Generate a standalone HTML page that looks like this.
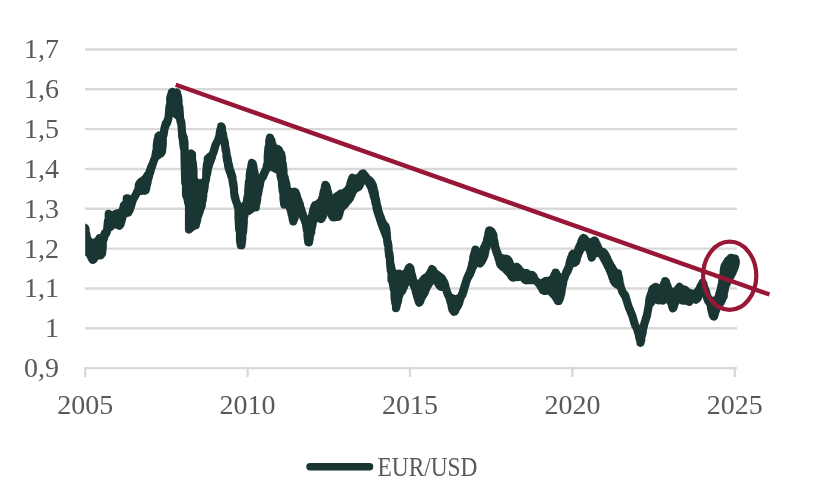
<!DOCTYPE html>
<html><head><meta charset="utf-8"><style>
html,body{margin:0;padding:0;background:#fff;width:840px;height:492px;overflow:hidden}
svg{display:block;will-change:transform}
text{font-family:"Liberation Serif",serif}
</style></head><body>
<svg width="840" height="492" viewBox="0 0 840 492">
<rect width="840" height="492" fill="#ffffff"/>
<line x1="85" y1="49.45" x2="737" y2="49.45" stroke="#d9d9d9" stroke-width="2.4"/>
<line x1="85" y1="89.28" x2="737" y2="89.28" stroke="#d9d9d9" stroke-width="2.4"/>
<line x1="85" y1="129.11" x2="737" y2="129.11" stroke="#d9d9d9" stroke-width="2.4"/>
<line x1="85" y1="168.94" x2="737" y2="168.94" stroke="#d9d9d9" stroke-width="2.4"/>
<line x1="85" y1="208.77" x2="737" y2="208.77" stroke="#d9d9d9" stroke-width="2.4"/>
<line x1="85" y1="248.60" x2="737" y2="248.60" stroke="#d9d9d9" stroke-width="2.4"/>
<line x1="85" y1="288.43" x2="737" y2="288.43" stroke="#d9d9d9" stroke-width="2.4"/>
<line x1="85" y1="328.26" x2="737" y2="328.26" stroke="#d9d9d9" stroke-width="2.4"/>
<line x1="84" y1="368.09" x2="737" y2="368.09" stroke="#d9d9d9" stroke-width="2.4"/>
<line x1="85.20" y1="366.89" x2="85.20" y2="377" stroke="#d9d9d9" stroke-width="2.4"/>
<line x1="247.60" y1="366.89" x2="247.60" y2="377" stroke="#d9d9d9" stroke-width="2.4"/>
<line x1="410.00" y1="366.89" x2="410.00" y2="377" stroke="#d9d9d9" stroke-width="2.4"/>
<line x1="572.40" y1="366.89" x2="572.40" y2="377" stroke="#d9d9d9" stroke-width="2.4"/>
<line x1="734.80" y1="366.89" x2="734.80" y2="377" stroke="#d9d9d9" stroke-width="2.4"/>

<g font-family="Liberation Serif, serif" font-size="28" fill="#595959">
<text x="59" y="58.45" text-anchor="end">1,7</text>
<text x="59" y="98.28" text-anchor="end">1,6</text>
<text x="59" y="138.11" text-anchor="end">1,5</text>
<text x="59" y="177.94" text-anchor="end">1,4</text>
<text x="59" y="217.77" text-anchor="end">1,3</text>
<text x="59" y="257.60" text-anchor="end">1,2</text>
<text x="59" y="297.43" text-anchor="end">1,1</text>
<text x="59" y="337.26" text-anchor="end">1</text>
<text x="59" y="377.09" text-anchor="end">0,9</text>
<text x="85.20" y="414" text-anchor="middle">2005</text>
<text x="247.60" y="414" text-anchor="middle">2010</text>
<text x="410.00" y="414" text-anchor="middle">2015</text>
<text x="572.40" y="414" text-anchor="middle">2020</text>
<text x="734.80" y="414" text-anchor="middle">2025</text>

</g>
<clipPath id="cp"><rect x="85.2" y="0" width="760" height="492"/></clipPath>
<path clip-path="url(#cp)" d="M81.00,227.6 L81.00,249.9 L81.75,250.4 L81.75,227.6 L82.50,227.6 L82.50,251.0 L83.25,251.5 L83.25,227.6 L84.00,227.6 L84.00,251.8 L84.75,251.8 L84.75,227.6 L85.50,228.5 L85.50,251.6 L86.25,251.3 L86.25,233.7 L87.00,237.7 L87.00,251.1 L87.75,251.3 L87.75,239.5 L88.50,240.5 L88.50,251.8 L89.25,252.8 L89.25,241.9 L90.00,242.5 L90.00,254.7 L90.75,256.6 L90.75,242.8 L91.50,242.9 L91.50,257.8 L92.25,259.2 L92.25,242.9 L93.00,242.9 L93.00,259.9 L93.75,259.3 L93.75,242.9 L94.50,242.9 L94.50,258.1 L95.25,257.0 L95.25,242.8 L96.00,242.6 L96.00,256.2 L96.75,255.5 L96.75,241.7 L97.50,240.9 L97.50,254.7 L98.25,254.2 L98.25,240.4 L99.00,239.1 L99.00,254.4 L99.75,254.9 L99.75,238.0 L100.50,238.0 L100.50,255.5 L101.25,254.7 L101.25,238.0 L102.00,238.0 L102.00,253.5 L102.75,246.6 L102.75,238.0 L103.50,237.0 L103.50,239.8 L104.25,237.0 L104.25,234.7 L105.00,233.0 L105.00,234.9 L105.75,234.1 L105.75,232.5 L106.50,231.4 L106.50,232.9 L107.25,229.7 L107.25,228.2 L108.00,221.0 L108.00,228.6 L108.75,228.1 L108.75,213.9 L109.50,214.5 L109.50,227.6 L110.25,227.0 L110.25,215.1 L111.00,215.3 L111.00,226.4 L111.75,225.7 L111.75,215.4 L112.50,215.2 L112.50,225.0 L113.25,224.5 L113.25,215.0 L114.00,214.8 L114.00,224.1 L114.75,223.9 L114.75,214.3 L115.50,214.0 L115.50,223.9 L116.25,224.2 L116.25,213.6 L117.00,213.4 L117.00,224.6 L117.75,225.0 L117.75,213.3 L118.50,213.4 L118.50,225.3 L119.25,225.7 L119.25,213.5 L120.00,213.4 L120.00,225.1 L120.75,223.6 L120.75,213.0 L121.50,212.1 L121.50,221.2 L122.25,217.8 L122.25,210.8 L123.00,208.7 L123.00,215.6 L123.75,214.7 L123.75,205.5 L124.50,204.8 L124.50,214.2 L125.25,213.7 L125.25,204.1 L126.00,202.9 L126.00,213.2 L126.75,212.7 L126.75,198.4 L127.50,198.3 L127.50,212.6 L128.25,212.6 L128.25,199.1 L129.00,199.7 L129.00,211.4 L129.75,209.9 L129.75,199.7 L130.50,199.5 L130.50,207.7 L131.25,205.5 L131.25,199.3 L132.00,199.1 L132.00,202.7 L132.75,200.2 L132.75,198.9 L133.50,198.5 L133.50,198.5 L134.25,197.5 L134.25,197.5 L135.00,196.1 L135.00,196.1 L135.75,194.9 L135.75,194.9 L136.50,193.3 L136.50,193.5 L137.25,192.2 L137.25,191.6 L138.00,190.0 L138.00,191.4 L138.75,190.8 L138.75,185.3 L139.50,183.4 L139.50,190.7 L140.25,190.8 L140.25,182.5 L141.00,181.8 L141.00,190.8 L141.75,190.8 L141.75,181.5 L142.50,180.9 L142.50,190.6 L143.25,190.5 L143.25,180.3 L144.00,179.7 L144.00,190.4 L144.75,190.7 L144.75,179.1 L145.50,178.4 L145.50,190.5 L146.25,188.3 L146.25,177.4 L147.00,176.1 L147.00,184.5 L147.75,181.1 L147.75,174.9 L148.50,174.0 L148.50,178.1 L149.25,175.3 L149.25,172.8 L150.00,170.4 L150.00,173.0 L150.75,170.3 L150.75,168.1 L151.50,166.4 L151.50,167.7 L152.25,165.7 L152.25,164.8 L153.00,162.9 L153.00,163.3 L153.75,160.9 L153.75,160.9 L154.50,159.0 L154.50,159.0 L155.25,157.4 L155.25,157.4 L156.00,152.2 L156.00,156.7 L156.75,156.2 L156.75,145.6 L157.50,140.1 L157.50,155.7 L158.25,155.2 L158.25,136.4 L159.00,135.5 L159.00,154.7 L159.75,154.2 L159.75,135.7 L160.50,135.8 L160.50,153.7 L161.25,152.7 L161.25,135.7 L162.00,135.4 L162.00,151.7 L162.75,143.8 L162.75,135.1 L163.50,134.4 L163.50,135.2 L164.25,130.6 L164.25,129.4 L165.00,126.2 L165.00,127.6 L165.75,125.1 L165.75,123.6 L166.50,122.5 L166.50,123.8 L167.25,122.5 L167.25,121.3 L168.00,119.1 L168.00,120.0 L168.75,115.9 L168.75,115.4 L169.50,106.5 L169.50,112.8 L170.25,112.6 L170.25,98.0 L171.00,95.2 L171.00,112.6 L171.75,112.6 L171.75,92.2 L172.50,91.9 L172.50,112.6 L173.25,112.7 L173.25,93.1 L174.00,93.9 L174.00,113.0 L174.75,113.4 L174.75,94.3 L175.50,94.0 L175.50,113.8 L176.25,114.4 L176.25,93.5 L177.00,92.6 L177.00,115.0 L177.75,115.5 L177.75,95.7 L178.50,100.0 L178.50,115.8 L179.25,115.9 L179.25,106.5 L180.00,116.3 L180.00,118.6 L180.75,122.4 L180.75,120.4 L181.50,123.2 L181.50,124.8 L182.25,137.0 L182.25,134.0 L183.00,135.7 L183.00,141.1 L183.75,147.8 L183.75,137.7 L184.50,142.9 L184.50,155.8 L185.25,182.7 L185.25,151.6 L186.00,152.8 L186.00,195.0 L186.75,196.8 L186.75,153.4 L187.50,153.8 L187.50,198.8 L188.25,203.0 L188.25,153.8 L189.00,154.1 L189.00,229.6 L189.75,228.9 L189.75,154.0 L190.50,153.8 L190.50,228.1 L191.25,227.5 L191.25,153.5 L192.00,154.3 L192.00,227.0 L192.75,226.6 L192.75,162.6 L193.50,171.5 L193.50,226.1 L194.25,225.7 L194.25,179.7 L195.00,181.7 L195.00,225.4 L195.75,225.3 L195.75,182.0 L196.50,182.9 L196.50,222.6 L197.25,219.3 L197.25,183.2 L198.00,183.3 L198.00,216.2 L198.75,213.9 L198.75,183.3 L199.50,183.3 L199.50,212.1 L200.25,209.5 L200.25,183.3 L201.00,183.3 L201.00,207.6 L201.75,205.5 L201.75,183.3 L202.50,183.2 L202.50,201.0 L203.25,195.8 L203.25,182.9 L204.00,182.0 L204.00,190.8 L204.75,185.8 L204.75,181.7 L205.50,180.1 L205.50,181.3 L206.25,177.7 L206.25,171.9 L207.00,164.1 L207.00,174.0 L207.75,170.3 L207.75,158.6 L208.50,157.9 L208.50,166.8 L209.25,164.3 L209.25,157.1 L210.00,156.5 L210.00,162.3 L210.75,160.2 L210.75,156.0 L211.50,155.4 L211.50,158.2 L212.25,155.7 L212.25,154.9 L213.00,153.2 L213.00,153.6 L213.75,151.7 L213.75,151.0 L214.50,148.5 L214.50,149.1 L215.25,146.1 L215.25,145.8 L216.00,144.0 L216.00,144.0 L216.75,142.7 L216.75,142.7 L217.50,141.5 L217.50,141.5 L218.25,139.8 L218.25,139.6 L219.00,137.0 L219.00,137.7 L219.75,137.4 L219.75,132.9 L220.50,129.5 L220.50,137.4 L221.25,137.4 L221.25,126.3 L222.00,127.7 L222.00,137.4 L222.75,137.6 L222.75,133.0 L223.50,137.6 L223.50,138.3 L224.25,141.0 L224.25,140.1 L225.00,143.6 L225.00,145.0 L225.75,150.7 L225.75,148.8 L226.50,153.2 L226.50,156.3 L227.25,161.0 L227.25,157.0 L228.00,160.7 L228.00,165.0 L228.75,168.4 L228.75,164.4 L229.50,167.7 L229.50,170.9 L230.25,172.8 L230.25,170.4 L231.00,172.5 L231.00,174.7 L231.75,177.2 L231.75,174.8 L232.50,177.8 L232.50,180.5 L233.25,185.5 L233.25,182.7 L234.00,189.4 L234.00,191.8 L234.75,197.2 L234.75,195.6 L235.50,199.0 L235.50,199.6 L236.25,201.8 L236.25,201.8 L237.00,203.4 L237.00,203.4 L237.75,206.8 L237.75,206.8 L238.50,208.2 L238.50,217.5 L239.25,229.7 L239.25,208.4 L240.00,208.4 L240.00,240.1 L240.75,245.1 L240.75,208.3 L241.50,208.1 L241.50,245.2 L242.25,238.9 L242.25,207.7 L243.00,207.1 L243.00,232.3 L243.75,222.9 L243.75,206.4 L244.50,205.7 L244.50,215.5 L245.25,211.1 L245.25,204.9 L246.00,204.1 L246.00,211.0 L246.75,211.1 L246.75,202.5 L247.50,197.0 L247.50,211.1 L248.25,211.0 L248.25,190.0 L249.00,181.5 L249.00,210.7 L249.75,210.2 L249.75,174.6 L250.50,169.8 L250.50,209.7 L251.25,209.2 L251.25,166.4 L252.00,163.0 L252.00,208.5 L252.75,207.8 L252.75,163.8 L253.50,167.0 L253.50,207.2 L254.25,206.9 L254.25,171.4 L255.00,175.5 L255.00,207.5 L255.75,207.5 L255.75,178.0 L256.50,178.8 L256.50,203.3 L257.25,198.6 L257.25,179.5 L258.00,180.3 L258.00,194.1 L258.75,190.3 L258.75,180.8 L259.50,180.8 L259.50,186.7 L260.25,182.4 L260.25,180.7 L261.00,179.6 L261.00,179.6 L261.75,178.4 L261.75,178.0 L262.50,176.7 L262.50,177.5 L263.25,176.1 L263.25,175.1 L264.00,173.4 L264.00,174.3 L264.75,172.4 L264.75,171.7 L265.50,170.4 L265.50,170.8 L266.25,169.5 L266.25,169.2 L267.00,164.9 L267.00,166.2 L267.75,165.8 L267.75,156.2 L268.50,147.3 L268.50,165.7 L269.25,165.8 L269.25,140.7 L270.00,137.8 L270.00,166.0 L270.75,166.3 L270.75,139.2 L271.50,140.8 L271.50,166.7 L272.25,167.1 L272.25,143.8 L273.00,146.5 L273.00,167.5 L273.75,167.8 L273.75,148.1 L274.50,148.4 L274.50,168.2 L275.25,168.6 L275.25,148.6 L276.00,148.7 L276.00,168.9 L276.75,169.3 L276.75,148.8 L277.50,149.0 L277.50,169.7 L278.25,170.0 L278.25,149.3 L279.00,150.3 L279.00,170.5 L279.75,171.4 L279.75,151.8 L280.50,153.0 L280.50,175.6 L281.25,178.9 L281.25,154.1 L282.00,158.3 L282.00,184.0 L282.75,191.3 L282.75,164.0 L283.50,171.3 L283.50,198.7 L284.25,204.5 L284.25,176.5 L285.00,179.0 L285.00,204.5 L285.75,204.2 L285.75,181.9 L286.50,185.3 L286.50,203.8 L287.25,203.8 L287.25,188.7 L288.00,190.6 L288.00,204.0 L288.75,205.0 L288.75,191.4 L289.50,191.8 L289.50,206.6 L290.25,209.1 L290.25,192.1 L291.00,192.2 L291.00,211.0 L291.75,214.6 L291.75,192.3 L292.50,192.4 L292.50,218.2 L293.25,221.4 L293.25,192.2 L294.00,191.8 L294.00,219.6 L294.75,217.5 L294.75,191.8 L295.50,192.2 L295.50,214.7 L296.25,212.7 L296.25,194.0 L297.00,196.6 L297.00,211.6 L297.75,211.3 L297.75,198.9 L298.50,200.8 L298.50,211.2 L299.25,211.1 L299.25,202.5 L300.00,205.2 L300.00,211.2 L300.75,211.5 L300.75,207.9 L301.50,210.4 L301.50,212.4 L302.25,214.3 L302.25,212.6 L303.00,215.0 L303.00,216.4 L303.75,218.2 L303.75,217.0 L304.50,218.3 L304.50,219.5 L305.25,222.0 L305.25,220.7 L306.00,221.4 L306.00,224.1 L306.75,229.6 L306.75,221.6 L307.50,221.8 L307.50,235.7 L308.25,241.9 L308.25,221.8 L309.00,221.6 L309.00,242.4 L309.75,238.0 L309.75,221.2 L310.50,220.7 L310.50,234.3 L311.25,232.2 L311.25,218.9 L312.00,215.7 L312.00,227.1 L312.75,222.7 L312.75,212.1 L313.50,209.3 L313.50,220.7 L314.25,219.4 L314.25,206.9 L315.00,205.4 L315.00,218.7 L315.75,218.2 L315.75,205.1 L316.50,204.7 L316.50,217.6 L317.25,217.1 L317.25,204.3 L318.00,203.8 L318.00,217.4 L318.75,217.8 L318.75,203.2 L319.50,202.7 L319.50,218.2 L320.25,218.6 L320.25,202.1 L321.00,201.4 L321.00,219.1 L321.75,218.5 L321.75,199.9 L322.50,197.4 L322.50,216.7 L323.25,215.3 L323.25,194.0 L324.00,190.8 L324.00,213.1 L324.75,210.6 L324.75,187.8 L325.50,184.9 L325.50,209.8 L326.25,209.7 L326.25,185.9 L327.00,188.1 L327.00,209.7 L327.75,209.9 L327.75,191.4 L328.50,194.7 L328.50,210.2 L329.25,210.8 L329.25,197.4 L330.00,198.6 L330.00,211.6 L330.75,212.8 L330.75,199.5 L331.50,200.0 L331.50,214.5 L332.25,216.3 L332.25,200.4 L333.00,200.4 L333.00,217.3 L333.75,217.4 L333.75,199.4 L334.50,198.4 L334.50,216.8 L335.25,216.5 L335.25,197.6 L336.00,197.0 L336.00,216.3 L336.75,216.3 L336.75,196.6 L337.50,195.9 L337.50,216.9 L338.25,216.7 L338.25,195.6 L339.00,195.3 L339.00,214.8 L339.75,212.2 L339.75,194.5 L340.50,193.8 L340.50,209.7 L341.25,207.8 L341.25,193.7 L342.00,193.7 L342.00,206.9 L342.75,206.2 L342.75,193.5 L343.50,193.2 L343.50,205.7 L344.25,205.3 L344.25,192.7 L345.00,192.1 L345.00,204.4 L345.75,203.1 L345.75,191.6 L346.50,191.0 L346.50,202.1 L347.25,201.3 L347.25,190.3 L348.00,189.5 L348.00,200.7 L348.75,199.8 L348.75,188.2 L349.50,186.9 L349.50,198.9 L350.25,197.5 L350.25,184.4 L351.00,181.7 L351.00,195.7 L351.75,193.9 L351.75,179.2 L352.50,177.8 L352.50,192.3 L353.25,191.0 L353.25,178.6 L354.00,178.7 L354.00,190.0 L354.75,189.2 L354.75,178.8 L355.50,178.7 L355.50,188.6 L356.25,188.2 L356.25,178.5 L357.00,178.2 L357.00,187.9 L357.75,187.5 L357.75,177.8 L358.50,177.4 L358.50,187.1 L359.25,186.2 L359.25,177.1 L360.00,176.7 L360.00,184.8 L360.75,182.9 L360.75,176.2 L361.50,174.9 L361.50,181.5 L362.25,180.7 L362.25,173.7 L363.00,173.5 L363.00,180.3 L363.75,180.0 L363.75,174.1 L364.50,175.0 L364.50,179.9 L365.25,179.9 L365.25,175.9 L366.00,176.8 L366.00,180.1 L366.75,180.4 L366.75,178.0 L367.50,178.9 L367.50,180.9 L368.25,181.8 L368.25,179.8 L369.00,180.0 L369.00,183.1 L369.75,184.6 L369.75,180.5 L370.50,181.2 L370.50,186.1 L371.25,187.5 L371.25,182.2 L372.00,183.5 L372.00,189.9 L372.75,192.4 L372.75,185.0 L373.50,187.9 L373.50,195.0 L374.25,197.5 L374.25,190.7 L375.00,194.7 L375.00,200.5 L375.75,203.9 L375.75,198.6 L376.50,202.3 L376.50,207.5 L377.25,210.7 L377.25,205.6 L378.00,208.7 L378.00,213.1 L378.75,215.5 L378.75,211.9 L379.50,214.3 L379.50,217.6 L380.25,220.0 L380.25,216.3 L381.00,218.3 L381.00,222.4 L381.75,224.5 L381.75,220.2 L382.50,222.2 L382.50,226.6 L383.25,228.6 L383.25,223.4 L384.00,224.4 L384.00,230.5 L384.75,232.3 L384.75,225.3 L385.50,226.4 L385.50,234.3 L386.25,236.5 L386.25,228.5 L387.00,236.7 L387.00,239.0 L387.75,244.5 L387.75,241.9 L388.50,246.4 L388.50,249.8 L389.25,256.6 L389.25,252.8 L390.00,258.7 L390.00,262.2 L390.75,270.4 L390.75,264.7 L391.50,269.0 L391.50,280.0 L392.25,281.7 L392.25,271.3 L393.00,272.1 L393.00,284.3 L393.75,288.8 L393.75,272.8 L394.50,273.5 L394.50,297.0 L395.25,302.8 L395.25,274.3 L396.00,274.8 L396.00,308.2 L396.75,305.6 L396.75,274.6 L397.50,274.1 L397.50,302.6 L398.25,299.8 L398.25,273.8 L399.00,273.7 L399.00,296.4 L399.75,293.8 L399.75,273.9 L400.50,274.2 L400.50,292.7 L401.25,291.9 L401.25,274.4 L402.00,274.7 L402.00,291.2 L402.75,289.6 L402.75,274.8 L403.50,274.8 L403.50,287.8 L404.25,286.0 L404.25,274.6 L405.00,274.3 L405.00,284.3 L405.75,282.9 L405.75,273.7 L406.50,272.5 L406.50,282.0 L407.25,281.7 L407.25,271.1 L408.00,269.7 L408.00,281.5 L408.75,281.3 L408.75,268.1 L409.50,267.3 L409.50,281.2 L410.25,281.3 L410.25,268.0 L411.00,271.1 L411.00,281.6 L411.75,282.1 L411.75,274.4 L412.50,277.4 L412.50,282.9 L413.25,284.3 L413.25,279.9 L414.00,281.8 L414.00,286.0 L414.75,287.8 L414.75,283.0 L415.50,283.8 L415.50,290.1 L416.25,293.4 L416.25,284.2 L417.00,284.5 L417.00,296.1 L417.75,298.5 L417.75,284.5 L418.50,284.5 L418.50,300.9 L419.25,302.8 L419.25,284.2 L420.00,283.9 L420.00,301.8 L420.75,299.7 L420.75,283.2 L421.50,282.2 L421.50,297.8 L422.25,296.3 L422.25,281.2 L423.00,280.2 L423.00,295.3 L423.75,294.3 L423.75,279.2 L424.50,278.4 L424.50,292.9 L425.25,291.1 L425.25,277.9 L426.00,277.4 L426.00,289.2 L426.75,287.5 L426.75,277.0 L427.50,276.4 L427.50,286.0 L428.25,284.8 L428.25,275.7 L429.00,274.7 L429.00,283.7 L429.75,282.5 L429.75,273.6 L430.50,272.2 L430.50,281.2 L431.25,280.5 L431.25,270.7 L432.00,269.1 L432.00,280.1 L432.75,279.9 L432.75,269.7 L433.50,271.1 L433.50,279.8 L434.25,279.9 L434.25,272.2 L435.00,273.0 L435.00,280.1 L435.75,280.5 L435.75,273.6 L436.50,274.2 L436.50,281.1 L437.25,281.7 L437.25,274.7 L438.00,275.3 L438.00,282.9 L438.75,284.5 L438.75,275.9 L439.50,276.4 L439.50,285.5 L440.25,286.2 L440.25,277.0 L441.00,277.3 L441.00,286.8 L441.75,286.2 L441.75,278.1 L442.50,279.2 L442.50,286.3 L443.25,286.4 L443.25,280.7 L444.00,281.9 L444.00,286.7 L444.75,287.1 L444.75,283.7 L445.50,286.8 L445.50,287.7 L446.25,289.5 L446.25,289.5 L447.00,292.1 L447.00,292.1 L447.75,294.2 L447.75,294.2 L448.50,295.7 L448.50,295.7 L449.25,297.5 L449.25,296.7 L450.00,297.1 L450.00,299.9 L450.75,302.5 L450.75,297.5 L451.50,297.9 L451.50,305.7 L452.25,309.0 L452.25,298.2 L453.00,298.6 L453.00,310.4 L453.75,311.6 L453.75,298.9 L454.50,299.2 L454.50,311.7 L455.25,310.7 L455.25,299.2 L456.00,299.2 L456.00,309.1 L456.75,307.5 L456.75,299.1 L457.50,298.7 L457.50,306.2 L458.25,305.2 L458.25,298.4 L459.00,298.0 L459.00,303.5 L459.75,300.6 L459.75,297.6 L460.50,297.3 L460.50,298.1 L461.25,296.8 L461.25,295.8 L462.00,294.1 L462.00,295.6 L462.75,294.0 L462.75,292.2 L463.50,289.8 L463.50,291.8 L464.25,289.0 L464.25,287.2 L465.00,284.8 L465.00,286.2 L465.75,283.7 L465.75,282.7 L466.50,280.1 L466.50,281.2 L467.25,279.1 L467.25,277.8 L468.00,276.1 L468.00,277.5 L468.75,276.1 L468.75,274.6 L469.50,273.3 L469.50,274.9 L470.25,273.8 L470.25,271.3 L471.00,268.8 L471.00,271.8 L471.75,269.5 L471.75,266.1 L472.50,262.3 L472.50,267.5 L473.25,266.5 L473.25,257.8 L474.00,254.6 L474.00,265.0 L474.75,263.1 L474.75,252.1 L475.50,249.7 L475.50,262.3 L476.25,261.9 L476.25,251.1 L477.00,252.6 L477.00,261.7 L477.75,261.6 L477.75,253.7 L478.50,254.4 L478.50,262.0 L479.25,262.7 L479.25,254.5 L480.00,254.3 L480.00,263.6 L480.75,262.5 L480.75,254.0 L481.50,253.5 L481.50,261.6 L482.25,260.5 L482.25,252.6 L483.00,250.8 L483.00,259.1 L483.75,257.2 L483.75,248.3 L484.50,246.7 L484.50,255.3 L485.25,251.7 L485.25,245.2 L486.00,243.6 L486.00,248.8 L486.75,245.9 L486.75,241.7 L487.50,237.9 L487.50,243.7 L488.25,243.0 L488.25,234.1 L489.00,231.0 L489.00,242.2 L489.75,241.9 L489.75,230.3 L490.50,230.8 L490.50,241.7 L491.25,241.7 L491.25,231.2 L492.00,232.2 L492.00,241.8 L492.75,242.1 L492.75,233.7 L493.50,235.4 L493.50,242.8 L494.25,244.3 L494.25,240.6 L495.00,245.4 L495.00,247.0 L495.75,250.1 L495.75,248.2 L496.50,250.6 L496.50,252.3 L497.25,254.1 L497.25,252.6 L498.00,254.9 L498.00,256.5 L498.75,259.2 L498.75,256.4 L499.50,257.1 L499.50,261.9 L500.25,264.3 L500.25,257.4 L501.00,257.8 L501.00,265.1 L501.75,266.1 L501.75,258.1 L502.50,258.4 L502.50,266.8 L503.25,267.3 L503.25,258.7 L504.00,259.0 L504.00,267.8 L504.75,268.4 L504.75,259.0 L505.50,258.9 L505.50,269.1 L506.25,269.9 L506.25,258.8 L507.00,259.0 L507.00,270.6 L507.75,271.4 L507.75,259.5 L508.50,260.1 L508.50,272.1 L509.25,272.9 L509.25,261.7 L510.00,263.8 L510.00,273.6 L510.75,275.0 L510.75,265.8 L511.50,267.2 L511.50,276.4 L512.25,277.2 L512.25,267.8 L513.00,268.5 L513.00,277.6 L513.75,277.5 L513.75,268.8 L514.50,269.0 L514.50,277.1 L515.25,276.7 L515.25,267.9 L516.00,267.1 L516.00,276.6 L516.75,276.7 L516.75,266.9 L517.50,267.2 L517.50,276.9 L518.25,277.0 L518.25,268.1 L519.00,269.4 L519.00,276.8 L519.75,276.4 L519.75,270.2 L520.50,270.9 L520.50,276.4 L521.25,276.5 L521.25,271.7 L522.00,272.2 L522.00,276.8 L522.75,277.2 L522.75,272.6 L523.50,273.0 L523.50,277.8 L524.25,278.9 L524.25,273.1 L525.00,273.1 L525.00,279.8 L525.75,280.2 L525.75,273.0 L526.50,273.1 L526.50,280.2 L527.25,279.9 L527.25,273.5 L528.00,274.2 L528.00,279.9 L528.75,280.1 L528.75,275.2 L529.50,275.4 L529.50,280.1 L530.25,280.1 L530.25,275.3 L531.00,275.1 L531.00,280.1 L531.75,280.1 L531.75,274.8 L532.50,275.2 L532.50,280.1 L533.25,280.1 L533.25,275.9 L534.00,277.7 L534.00,280.1 L534.75,280.1 L534.75,279.3 L535.50,280.5 L535.50,280.5 L536.25,281.2 L536.25,281.2 L537.00,281.7 L537.00,281.7 L537.75,282.3 L537.75,282.2 L538.50,282.7 L538.50,283.2 L539.25,284.3 L539.25,283.2 L540.00,283.5 L540.00,285.3 L540.75,286.6 L540.75,283.4 L541.50,283.2 L541.50,287.6 L542.25,288.9 L542.25,283.1 L543.00,283.4 L543.00,290.2 L543.75,290.1 L543.75,282.6 L544.50,281.7 L544.50,291.0 L545.25,290.9 L545.25,281.2 L546.00,281.0 L546.00,290.4 L546.75,290.1 L546.75,281.2 L547.50,281.4 L547.50,290.1 L548.25,290.1 L548.25,281.3 L549.00,281.1 L549.00,290.1 L549.75,290.4 L549.75,280.6 L550.50,280.0 L550.50,291.2 L551.25,292.1 L551.25,279.5 L552.00,279.1 L552.00,293.0 L552.75,293.8 L552.75,278.5 L553.50,277.2 L553.50,294.5 L554.25,295.2 L554.25,275.3 L555.00,274.0 L555.00,296.2 L555.75,297.2 L555.75,272.6 L556.50,274.1 L556.50,298.3 L557.25,299.6 L557.25,275.0 L558.00,277.1 L558.00,301.1 L558.75,301.0 L558.75,279.2 L559.50,280.5 L559.50,299.3 L560.25,297.5 L560.25,280.9 L561.00,280.8 L561.00,294.6 L561.75,290.2 L561.75,280.7 L562.50,280.3 L562.50,285.8 L563.25,282.3 L563.25,279.8 L564.00,278.9 L564.00,279.2 L564.75,277.1 L564.75,276.6 L565.50,274.3 L565.50,275.1 L566.25,273.1 L566.25,272.1 L567.00,270.6 L567.00,272.0 L567.75,270.8 L567.75,269.1 L568.50,267.2 L568.50,269.0 L569.25,266.8 L569.25,264.9 L570.00,261.4 L570.00,265.4 L570.75,264.2 L570.75,258.8 L571.50,256.9 L571.50,263.4 L572.25,262.7 L572.25,254.9 L573.00,253.8 L573.00,262.5 L573.75,262.6 L573.75,254.2 L574.50,254.4 L574.50,262.8 L575.25,262.3 L575.25,254.4 L576.00,253.8 L576.00,261.6 L576.75,259.4 L576.75,252.8 L577.50,251.5 L577.50,256.4 L578.25,254.2 L578.25,249.6 L579.00,247.3 L579.00,252.5 L579.75,251.1 L579.75,245.9 L580.50,244.4 L580.50,249.1 L581.25,248.4 L581.25,242.0 L582.00,239.9 L582.00,247.7 L582.75,247.1 L582.75,238.7 L583.50,238.0 L583.50,246.5 L584.25,246.1 L584.25,238.3 L585.00,239.2 L585.00,245.8 L585.75,245.4 L585.75,240.7 L586.50,241.8 L586.50,245.5 L587.25,245.7 L587.25,242.3 L588.00,242.4 L588.00,246.5 L588.75,248.6 L588.75,242.4 L589.50,242.4 L589.50,250.0 L590.25,252.3 L590.25,242.4 L591.00,242.4 L591.00,255.0 L591.75,257.5 L591.75,242.3 L592.50,242.0 L592.50,256.0 L593.25,254.6 L593.25,241.5 L594.00,240.8 L594.00,253.8 L594.75,253.4 L594.75,240.5 L595.50,241.7 L595.50,253.3 L596.25,253.1 L596.25,243.5 L597.00,245.1 L597.00,252.9 L597.75,252.8 L597.75,246.5 L598.50,248.6 L598.50,252.8 L599.25,253.0 L599.25,249.7 L600.00,250.7 L600.00,253.3 L600.75,253.7 L600.75,251.7 L601.50,251.8 L601.50,254.4 L602.25,255.7 L602.25,251.8 L603.00,252.0 L603.00,257.0 L603.75,258.4 L603.75,252.5 L604.50,253.5 L604.50,259.7 L605.25,261.0 L605.25,254.6 L606.00,255.9 L606.00,262.4 L606.75,263.8 L606.75,257.5 L607.50,259.3 L607.50,265.3 L608.25,266.8 L608.25,260.9 L609.00,262.4 L609.00,268.3 L609.75,270.2 L609.75,263.8 L610.50,265.2 L610.50,271.9 L611.25,273.9 L611.25,266.3 L612.00,267.5 L612.00,275.9 L612.75,278.2 L612.75,268.9 L613.50,270.1 L613.50,280.5 L614.25,281.8 L614.25,271.2 L615.00,272.0 L615.00,282.9 L615.75,283.6 L615.75,272.5 L616.50,272.8 L616.50,284.1 L617.25,284.6 L617.25,273.1 L618.00,273.3 L618.00,285.0 L618.75,285.3 L618.75,276.8 L619.50,280.9 L619.50,285.5 L620.25,286.2 L620.25,284.6 L621.00,287.7 L621.00,287.7 L621.75,289.9 L621.75,289.9 L622.50,292.0 L622.50,292.0 L623.25,293.2 L623.25,293.2 L624.00,293.7 L624.00,294.5 L624.75,295.7 L624.75,294.7 L625.50,296.3 L625.50,297.0 L626.25,299.1 L626.25,299.1 L627.00,301.5 L627.00,301.5 L627.75,304.0 L627.75,304.0 L628.50,306.3 L628.50,306.3 L629.25,308.4 L629.25,308.4 L630.00,310.2 L630.00,310.2 L630.75,312.0 L630.75,312.0 L631.50,313.8 L631.50,313.8 L632.25,315.6 L632.25,315.6 L633.00,318.2 L633.00,318.2 L633.75,320.8 L633.75,320.8 L634.50,323.3 L634.50,323.3 L635.25,325.5 L635.25,325.5 L636.00,326.7 L636.00,326.7 L636.75,328.0 L636.75,328.0 L637.50,330.1 L637.50,330.1 L638.25,333.1 L638.25,331.8 L639.00,333.1 L639.00,336.5 L639.75,339.5 L639.75,332.5 L640.50,332.4 L640.50,342.8 L641.25,340.0 L641.25,332.8 L642.00,332.6 L642.00,335.2 L642.75,332.1 L642.75,330.2 L643.50,326.5 L643.50,327.7 L644.25,324.4 L644.25,324.0 L645.00,321.5 L645.00,321.8 L645.75,319.4 L645.75,318.8 L646.50,316.7 L646.50,317.3 L647.25,314.1 L647.25,313.6 L648.00,309.7 L648.00,309.9 L648.75,305.8 L648.75,305.5 L649.50,298.7 L649.50,304.1 L650.25,303.6 L650.25,296.3 L651.00,294.0 L651.00,302.6 L651.75,301.7 L651.75,291.6 L652.50,289.2 L652.50,300.7 L653.25,299.7 L653.25,288.3 L654.00,288.0 L654.00,299.3 L654.75,299.1 L654.75,287.5 L655.50,287.0 L655.50,299.0 L656.25,299.0 L656.25,287.2 L657.00,287.6 L657.00,299.2 L657.75,299.6 L657.75,288.2 L658.50,288.9 L658.50,300.3 L659.25,300.3 L659.25,289.1 L660.00,288.9 L660.00,299.9 L660.75,299.9 L660.75,288.6 L661.50,288.1 L661.50,300.2 L662.25,300.5 L662.25,287.5 L663.00,286.4 L663.00,300.6 L663.75,300.2 L663.75,284.6 L664.50,282.9 L664.50,299.6 L665.25,298.8 L665.25,281.2 L666.00,281.8 L666.00,297.9 L666.75,297.3 L666.75,284.2 L667.50,286.1 L667.50,297.3 L668.25,297.3 L668.25,288.2 L669.00,290.7 L669.00,297.5 L669.75,299.0 L669.75,292.1 L670.50,292.3 L670.50,301.2 L671.25,303.4 L671.25,292.3 L672.00,292.2 L672.00,305.5 L672.75,308.2 L672.75,292.0 L673.50,291.8 L673.50,307.5 L674.25,305.1 L674.25,291.6 L675.00,291.4 L675.00,303.1 L675.75,301.5 L675.75,291.2 L676.50,290.7 L676.50,300.2 L677.25,299.8 L677.25,289.8 L678.00,288.8 L678.00,299.4 L678.75,299.1 L678.75,287.9 L679.50,286.9 L679.50,298.9 L680.25,298.9 L680.25,287.6 L681.00,288.5 L681.00,299.4 L681.75,300.0 L681.75,289.7 L682.50,290.0 L682.50,300.5 L683.25,300.6 L683.25,289.7 L684.00,289.6 L684.00,300.5 L684.75,300.6 L684.75,289.7 L685.50,290.1 L685.50,300.6 L686.25,300.6 L686.25,290.7 L687.00,291.5 L687.00,300.6 L687.75,300.9 L687.75,292.4 L688.50,292.7 L688.50,301.5 L689.25,301.7 L689.25,292.9 L690.00,293.1 L690.00,301.0 L690.75,299.9 L690.75,293.3 L691.50,293.5 L691.50,299.2 L692.25,299.0 L692.25,293.6 L693.00,293.8 L693.00,298.9 L693.75,299.0 L693.75,293.9 L694.50,293.8 L694.50,299.0 L695.25,299.2 L695.25,293.5 L696.00,293.2 L696.00,299.8 L696.75,299.0 L696.75,292.6 L697.50,291.6 L697.50,298.5 L698.25,296.9 L698.25,290.3 L699.00,289.8 L699.00,295.1 L699.75,293.7 L699.75,288.5 L700.50,286.3 L700.50,292.9 L701.25,292.4 L701.25,285.4 L702.00,283.9 L702.00,292.1 L702.75,291.9 L702.75,282.6 L703.50,284.1 L703.50,291.9 L704.25,292.2 L704.25,287.0 L705.00,289.4 L705.00,293.2 L705.75,294.3 L705.75,290.8 L706.50,293.7 L706.50,295.9 L707.25,298.6 L707.25,295.9 L708.00,297.6 L708.00,300.5 L708.75,301.9 L708.75,298.9 L709.50,299.8 L709.50,302.6 L710.25,304.3 L710.25,300.6 L711.00,300.8 L711.00,308.0 L711.75,311.4 L711.75,300.8 L712.50,300.8 L712.50,314.5 L713.25,316.1 L713.25,300.8 L714.00,300.8 L714.00,316.6 L714.75,314.3 L714.75,300.7 L715.50,300.5 L715.50,311.7 L716.25,309.4 L716.25,300.1 L717.00,299.6 L717.00,307.9 L717.75,306.3 L717.75,298.7 L718.50,296.6 L718.50,305.0 L719.25,303.9 L719.25,294.2 L720.00,291.8 L720.00,303.1 L720.75,302.4 L720.75,289.2 L721.50,285.4 L721.50,300.9 L722.25,299.3 L722.25,281.1 L723.00,275.7 L723.00,297.8 L723.75,296.2 L723.75,270.6 L724.50,266.5 L724.50,291.2 L725.25,286.3 L725.25,265.2 L726.00,263.8 L726.00,284.8 L726.75,283.3 L726.75,262.7 L727.50,261.2 L727.50,281.9 L728.25,280.5 L728.25,260.2 L729.00,260.0 L729.00,279.1 L729.75,277.7 L729.75,259.1 L730.50,258.1 L730.50,276.3 L731.25,274.9 L731.25,257.9 L732.00,258.1 L732.00,273.5 L732.75,272.1 L732.75,258.2 L733.50,258.4 L733.50,270.2 L734.25,268.3 L734.25,258.5 L735.00,258.6 L735.00,266.3 L735.75,263.1 L735.75,260.8" fill="none" stroke="#1a3632" stroke-width="8.2" stroke-linejoin="round" stroke-linecap="round"/>
<line x1="175.7" y1="84.7" x2="769.5" y2="294.5" stroke="#981636" stroke-width="4.4"/>
<ellipse cx="729.7" cy="275.8" rx="26.6" ry="34.1" fill="none" stroke="#981636" stroke-width="4.2"/>
<line x1="310" y1="466.8" x2="369.6" y2="466.8" stroke="#1a3632" stroke-width="7.4" stroke-linecap="round"/>
<text x="377.5" y="475.8" font-family="Liberation Serif, serif" font-size="27" textLength="100" lengthAdjust="spacingAndGlyphs" fill="#595959">EUR/USD</text>
</svg>
</body></html>
